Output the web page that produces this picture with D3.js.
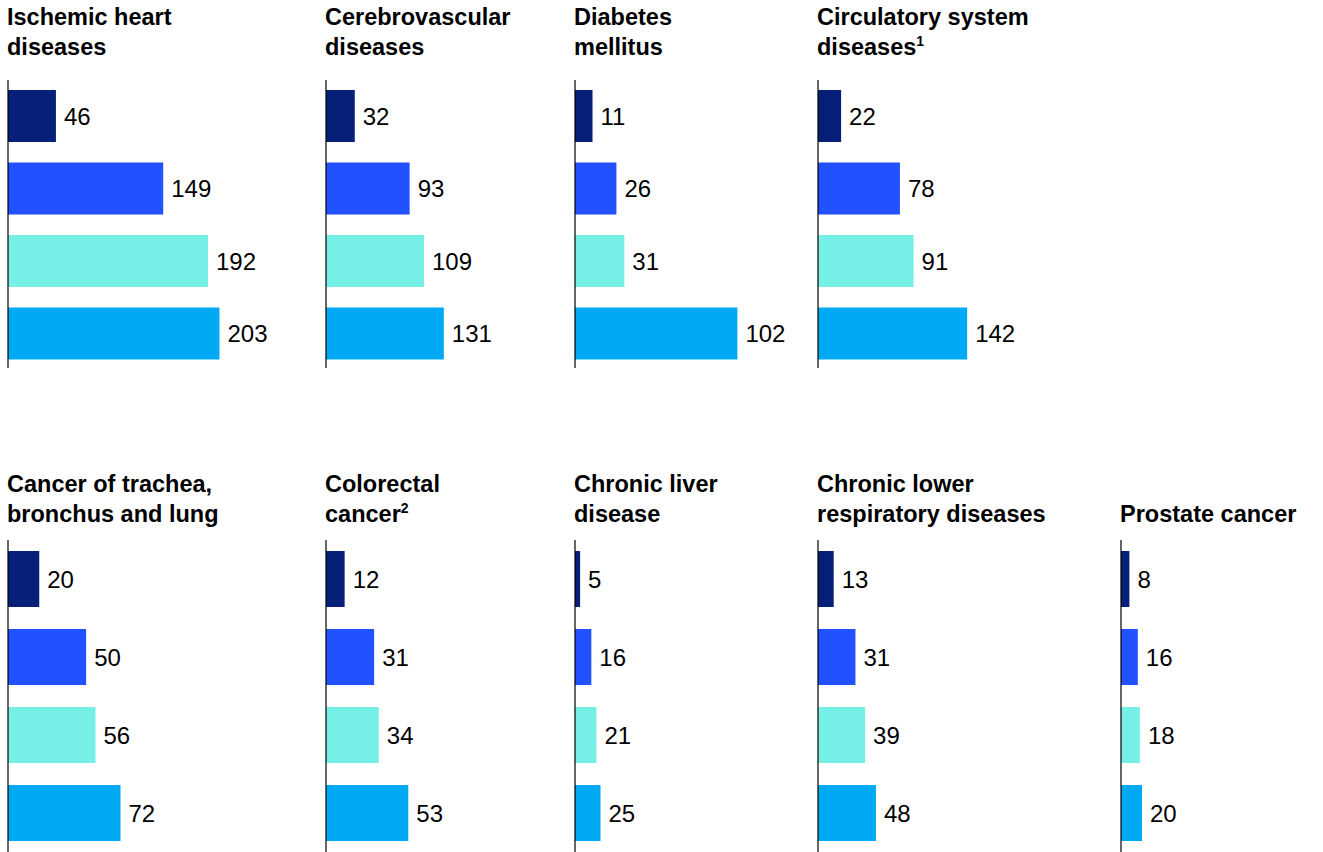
<!DOCTYPE html>
<html>
<head>
<script src="https://d3js.org/d3.v7.min.js"></script>
<style>
  body { margin: 0; background: #fff; }
  text { font-family: "Liberation Sans", Arial, sans-serif; fill: #000; }
</style>
</head>
<body>
<svg id="chart" width="1323" height="852"></svg>
<script>
// panel titles (line-split), footnote marks
var titles = [
  ["Ischemic heart", "diseases"],
  ["Cerebrovascular", "diseases"],
  ["Diabetes", "mellitus"],
  ["Circulatory system", "diseases"],
  ["Cancer of trachea,", "bronchus and lung"],
  ["Colorectal", "cancer"],
  ["Chronic liver", "disease"],
  ["Chronic lower", "respiratory diseases"],
  ["Prostate cancer"]
];
var notes = ["", "", "", "1", "", "2", "", "", ""];

// four values per panel (top to bottom)
var values = [
  [46, 149, 192, 203],
  [32, 93, 109, 131],
  [11, 26, 31, 102],
  [22, 78, 91, 142],
  [20, 50, 56, 72],
  [12, 31, 34, 53],
  [5, 16, 21, 25],
  [13, 31, 39, 48],
  [8, 16, 18, 20]
];
// each panel has its own x domain in the original
var domainMax = [240, 278, 157, 238, 160, 161, 245, 207, 238];
var colors = ["#061f79", "#2251ff", "#76f0e6", "#00a9f4"];

var svg = d3.select("#chart");

var rows = [
  { panels: [0, 1, 2, 3], xs: [8, 326, 575, 818], titleY: 25, axisTop: 80, axisBottom: 368, barTop: 90, step: 72.5, barH: 52 },
  { panels: [4, 5, 6, 7, 8], xs: [8, 326, 575, 818, 1121], titleY: 492, axisTop: 540, axisBottom: 852, barTop: 551, step: 78, barH: 56 }
];

rows.forEach(function(row) {
  row.panels.forEach(function(p, k) {
    var g = svg.append("g").attr("transform", "translate(" + row.xs[k] + ",0)");
    var x = d3.scaleLinear().domain([0, domainMax[p]]).range([0, 250]);
    var y = d3.scaleBand().domain(d3.range(4))
      .range([row.barTop, row.barTop + row.step * 3 + row.barH])
      .paddingInner(1 - row.barH / row.step).paddingOuter(0);

    // title
    var lines = titles[p];
    var startY = lines.length === 1 ? row.titleY + 30 : row.titleY;
    lines.forEach(function(l, i) {
      var t = g.append("text")
        .attr("x", -1).attr("y", startY + i * 30)
        .style("font-size", "23.5px").style("font-weight", "bold")
        .text(l);
      if (i === lines.length - 1 && notes[p]) {
        t.append("tspan").attr("dy", -9).style("font-size", "14px").text(notes[p]);
      }
    });

    g.selectAll("rect").data(values[p]).join("rect")
      .attr("x", 0)
      .attr("y", function(d, i) { return y(i); })
      .attr("width", function(d) { return x(d); })
      .attr("height", y.bandwidth())
      .attr("fill", function(d, i) { return colors[i]; });

    g.selectAll("text.val").data(values[p]).join("text")
      .attr("class", "val")
      .attr("x", function(d) { return x(d) + 8; })
      .attr("y", function(d, i) { return y(i) + y.bandwidth() / 2; })
      .attr("dy", "0.36em")
      .style("font-size", "24px")
      .text(function(d) { return d; });

    g.append("line")
      .attr("x1", 0).attr("x2", 0)
      .attr("y1", row.axisTop).attr("y2", row.axisBottom)
      .attr("stroke", "#000").attr("stroke-width", 1.2);
  });
});
</script>
</body>
</html>
